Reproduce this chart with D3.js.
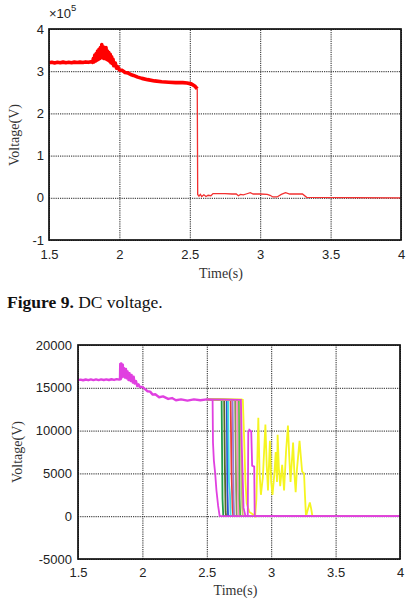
<!DOCTYPE html>
<html>
<head>
<meta charset="utf-8">
<script src="https://cdn.jsdelivr.net/npm/d3@7"></script>
<style>
  body { margin: 0; background: #fff; }
  svg { display: block; }
</style>
</head>
<body>
<svg id="svg"></svg>
<script>
const width = 413;
const height = 601;

// tick values
const timeTicks = [1.5, 2, 2.5, 3, 3.5, 4];
const dcTicks = [-1, 0, 1, 2, 3, 4];
const acTicks = [-5000, 0, 5000, 10000, 15000, 20000];

// DC voltage, x10^5 V: noisy part before the drop
const dcBefore = [
    [1.5, 3.2], [1.52, 3.21], [1.54, 3.195], [1.56, 3.21], [1.58, 3.2], [1.6, 3.215],
    [1.62, 3.2], [1.64, 3.21], [1.66, 3.2], [1.68, 3.215], [1.7, 3.205], [1.72, 3.215],
    [1.74, 3.205], [1.76, 3.22], [1.78, 3.21], [1.8, 3.225], [1.81, 3.21], [1.815, 3.3],
    [1.82, 3.22], [1.825, 3.38], [1.83, 3.24], [1.835, 3.42], [1.84, 3.26], [1.845, 3.48],
    [1.85, 3.28], [1.855, 3.52], [1.86, 3.3], [1.865, 3.56], [1.87, 3.32], [1.875, 3.63],
    [1.88, 3.34], [1.885, 3.58], [1.89, 3.3], [1.895, 3.54], [1.9, 3.3], [1.905, 3.56],
    [1.91, 3.28], [1.915, 3.48], [1.92, 3.26], [1.925, 3.44], [1.93, 3.24], [1.935, 3.4],
    [1.94, 3.2], [1.945, 3.34], [1.95, 3.18], [1.955, 3.28], [1.96, 3.13], [1.97, 3.2],
    [1.98, 3.07], [1.99, 3.1], [2.0, 3.03], [2.02, 3.02], [2.04, 2.97], [2.06, 2.96],
    [2.08, 2.92], [2.1, 2.9], [2.13, 2.86], [2.16, 2.83], [2.2, 2.8], [2.25, 2.77],
    [2.3, 2.75], [2.35, 2.74], [2.4, 2.73], [2.45, 2.73], [2.48, 2.72], [2.51, 2.7],
    [2.535, 2.65], [2.553, 2.58]
];
// DC voltage after the drop
const dcAfter = [
    [2.553, 2.58], [2.556, 0.08], [2.565, 0.04], [2.575, 0.08], [2.585, 0.03], [2.6, 0.07],
    [2.615, 0.03], [2.63, 0.06], [2.65, 0.05], [2.665, 0.1], [2.7, 0.1], [2.75, 0.1],
    [2.8, 0.09], [2.83, 0.09], [2.845, 0.05], [2.86, 0.08], [2.88, 0.07], [2.9, 0.09],
    [2.93, 0.12], [2.95, 0.09], [3.0, 0.09], [3.05, 0.08], [3.07, 0.06], [3.09, 0.02],
    [3.12, 0.02], [3.15, 0.08], [3.18, 0.12], [3.21, 0.09], [3.3, 0.09], [3.33, 0.01],
    [4.0, 0.0]
];

// phase voltages, V: common part before the fault
const acBefore = [
    [1.5, 15900], [1.52, 15960], [1.54, 15880], [1.56, 15970], [1.58, 15890], [1.6, 15980],
    [1.62, 15900], [1.64, 15980], [1.66, 15900], [1.68, 15990], [1.7, 15910], [1.72, 15990],
    [1.74, 15910], [1.76, 16000], [1.78, 15920], [1.8, 16010], [1.82, 15950], [1.826, 16020],
    [1.828, 17800], [1.832, 16000], [1.836, 17850], [1.84, 16200], [1.848, 17700], [1.852, 16300],
    [1.858, 17300], [1.864, 16200], [1.872, 17200], [1.878, 16100], [1.885, 16900], [1.892, 15900],
    [1.9, 16700], [1.908, 15800], [1.916, 16500], [1.925, 15600], [1.932, 16300], [1.94, 15500],
    [1.95, 15800], [1.96, 15200], [1.97, 15400], [1.98, 15100], [2.0, 15100], [2.02, 14850],
    [2.04, 14600], [2.06, 14550], [2.08, 14200], [2.1, 14250], [2.13, 13900], [2.16, 14000],
    [2.2, 13700], [2.23, 13800], [2.26, 13550], [2.3, 13650], [2.35, 13500], [2.4, 13650],
    [2.45, 13550], [2.5, 13650]
];

// phase voltages after 2.5 s, one array per phase
const phaseGreen = [[2.5, 13650], [2.615, 13600], [2.622, 2000], [2.628, 0], [4.0, 0]];
const phaseOlive = [[2.5, 13650], [2.635, 13600], [2.64, 6000], [2.646, 500], [2.65, 0], [4.0, 0]];
const phaseBlue = [[2.5, 13650], [2.655, 13600], [2.66, 3000], [2.665, 0], [4.0, 0]];
const phaseCyan = [[2.5, 13650], [2.665, 13600], [2.672, 4000], [2.68, 2500], [2.685, 0], [4.0, 0]];
const phaseRed = [[2.5, 13650], [2.685, 13600], [2.692, 5000], [2.7, 1000], [2.705, 0], [4.0, 0]];
const phasePurple = [[2.5, 13650], [2.7, 13600], [2.708, 2000], [2.712, 0], [4.0, 0]];
const phaseGrey = [[2.5, 13650], [2.72, 13600], [2.728, 3000], [2.732, 0], [4.0, 0]];
const phasePink = [[2.5, 13650], [2.735, 13600], [2.742, 3000], [2.748, 0], [4.0, 0]];
const phaseLime = [[2.5, 13650], [2.75, 13600], [2.755, 2000], [2.76, 0], [4.0, 0]];
const phaseKhaki = [[2.5, 13650], [2.76, 13600], [2.768, 6000], [2.775, 1000], [2.78, 0], [4.0, 0]];
const phaseMagentaB = [
    [2.5, 13650], [2.765, 13600], [2.772, 8000], [2.785, 1000], [2.8, 0], [2.818, 0],
    [2.822, 9800], [2.83, 10100], [2.845, 9900], [2.852, 5900], [2.868, 5800], [2.872, 0], [4.0, 0]
];
const phaseYellow = [
    [2.5, 13650], [2.77, 13650], [2.78, 13600], [2.79, 9000], [2.8, 4000], [2.81, 1500],
    [2.83, 500], [2.86, 200], [2.875, 0], [2.885, 2000], [2.9, 11500], [2.91, 5000],
    [2.92, 2500], [2.935, 4500], [2.955, 10700], [2.965, 6000], [2.975, 3000], [2.99, 8800],
    [3.0, 4000], [3.01, 2500], [3.025, 5000], [3.035, 7500], [3.045, 4000], [3.05, 9500],
    [3.06, 5500], [3.07, 3500], [3.085, 6000], [3.1, 3000], [3.115, 7500], [3.13, 10600],
    [3.14, 7000], [3.15, 4000], [3.17, 8600], [3.18, 5000], [3.19, 2800], [3.2, 5500],
    [3.22, 8800], [3.23, 7000], [3.24, 5200], [3.255, 5000], [3.262, 2500], [3.27, 0],
    [3.285, 800], [3.3, 1600], [3.31, 900], [3.32, 0], [4.0, 0]
];
const phaseMagentaA = [
    [2.5, 13650], [2.545, 13600], [2.548, 8600], [2.555, 6500], [2.565, 5000], [2.575, 3000],
    [2.588, 1200], [2.6, 0], [4.0, 0]
];

const phaseTails = [phaseGreen, phaseOlive, phaseBlue, phaseCyan, phaseRed, phasePurple,
    phaseGrey, phasePink, phaseLime, phaseKhaki, phaseYellow, phaseMagentaB, phaseMagentaA];
const phaseColours = ["#1f9e4a", "#566b26", "#2a4fd0", "#3fdcdc", "#e8403c", "#9a78d8",
    "#8a9a58", "#ff88c0", "#48b848", "#c8c060", "#f5f520", "#e040e0", "#e040e0"];

let svg = d3.select("#svg").attr("width", width).attr("height", height);
svg.append("rect").attr("width", width).attr("height", height).attr("fill", "#fff");

const tickFont = "'Liberation Sans', Arial, sans-serif";
const labelFont = "'Liberation Serif', 'Times New Roman', serif";

function drawPanel(p) {
    const x = d3.scaleLinear().domain([1.5, 4]).range([p.left, p.right]);
    const y = d3.scaleLinear().domain(p.yDomain).range([p.bottom, p.top]);
    const g = svg.append("g");

    // dotted grid
    g.append("g")
        .attr("transform", `translate(0,${p.bottom})`)
        .call(d3.axisBottom(x).tickValues(timeTicks).tickSize(-(p.bottom - p.top)).tickFormat(""))
        .call(a => a.select(".domain").remove());
    g.append("g")
        .attr("transform", `translate(${p.left},0)`)
        .call(d3.axisLeft(y).tickValues(p.yTicks).tickSize(-(p.right - p.left)).tickFormat(""))
        .call(a => a.select(".domain").remove());
    g.selectAll(".tick line")
        .attr("stroke", "#222")
        .attr("stroke-width", 1)
        .attr("stroke-dasharray", "1.2,1");

    // tick labels
    const xa = g.append("g")
        .attr("transform", `translate(0,${p.bottom})`)
        .call(d3.axisBottom(x).tickValues(timeTicks).tickSize(0).tickPadding(p.xPad).tickFormat(d => String(d)));
    const ya = g.append("g")
        .attr("transform", `translate(${p.left},0)`)
        .call(d3.axisLeft(y).tickValues(p.yTicks).tickSize(0).tickPadding(p.yPad).tickFormat(d => String(d)));
    [xa, ya].forEach(a => {
        a.select(".domain").remove();
        a.selectAll("text").attr("font-family", tickFont).attr("font-size", 13).attr("fill", "#222");
    });

    // axis titles
    g.append("text")
        .attr("x", p.xTitle[0]).attr("y", p.xTitle[1])
        .attr("text-anchor", "middle")
        .attr("font-family", labelFont).attr("font-size", 14).attr("fill", "#333")
        .text("Time(s)");
    g.append("text")
        .attr("transform", `translate(${p.yTitle[0]},${p.yTitle[1]}) rotate(-90)`)
        .attr("text-anchor", "middle")
        .attr("font-family", labelFont).attr("font-size", 14).attr("fill", "#333")
        .text("Voltage(V)");

    return { g, x, y };
}

function drawFrame(p) {
    svg.append("rect")
        .attr("x", p.left).attr("y", p.top)
        .attr("width", p.right - p.left).attr("height", p.bottom - p.top)
        .attr("fill", "none").attr("stroke", "#111").attr("stroke-width", 1.7);
}

// top panel: DC voltage
const topPanel = {
    left: 49, right: 401, top: 29, bottom: 240,
    yDomain: [-1, 4], yTicks: dcTicks, xPad: 9.5, yPad: 5,
    xTitle: [221, 278], yTitle: [19, 135]
};
const dcChart = drawPanel(topPanel);
const dcLine = d3.line().x(d => dcChart.x(d[0])).y(d => dcChart.y(d[1]));
dcChart.g.append("path").datum(dcAfter)
    .attr("d", dcLine).attr("fill", "none").attr("stroke", "#f23030").attr("stroke-width", 1.3);
dcChart.g.append("path").datum(dcBefore)
    .attr("d", dcLine).attr("fill", "none").attr("stroke", "#ff0000").attr("stroke-width", 3.6)
    .attr("stroke-linejoin", "round");
drawFrame(topPanel);

svg.append("text")
    .attr("x", 49).attr("y", 17.5)
    .attr("font-family", tickFont).attr("font-size", 13).attr("fill", "#222")
    .text("\u00d710")
    .append("tspan").attr("dy", -7).attr("font-size", 9.5).text("5");

// caption
const cap = svg.append("text")
    .attr("x", 7).attr("y", 307.5)
    .attr("font-family", labelFont).attr("font-size", 17.5).attr("fill", "#111");
cap.append("tspan").attr("font-weight", "bold").text("Figure 9.");
cap.append("tspan").text(" DC voltage.");

// bottom panel: phase voltages
const botPanel = {
    left: 78, right: 400, top: 345, bottom: 559,
    yDomain: [-5000, 20000], yTicks: acTicks, xPad: 8.5, yPad: 6,
    xTitle: [235.5, 595], yTitle: [22, 452]
};
const acChart = drawPanel(botPanel);
const acLine = d3.line().x(d => acChart.x(d[0])).y(d => acChart.y(d[1]));
acChart.g.selectAll(".phase")
    .data(phaseTails)
    .enter().append("path")
    .attr("class", "phase")
    .attr("d", acLine)
    .attr("fill", "none")
    .attr("stroke", (d, i) => phaseColours[i])
    .attr("stroke-width", 1.8);
acChart.g.append("path").datum(acBefore)
    .attr("d", acLine).attr("fill", "none").attr("stroke", "#e040e0").attr("stroke-width", 2.4)
    .attr("stroke-linejoin", "round");
drawFrame(botPanel);
</script>
</body>
</html>
